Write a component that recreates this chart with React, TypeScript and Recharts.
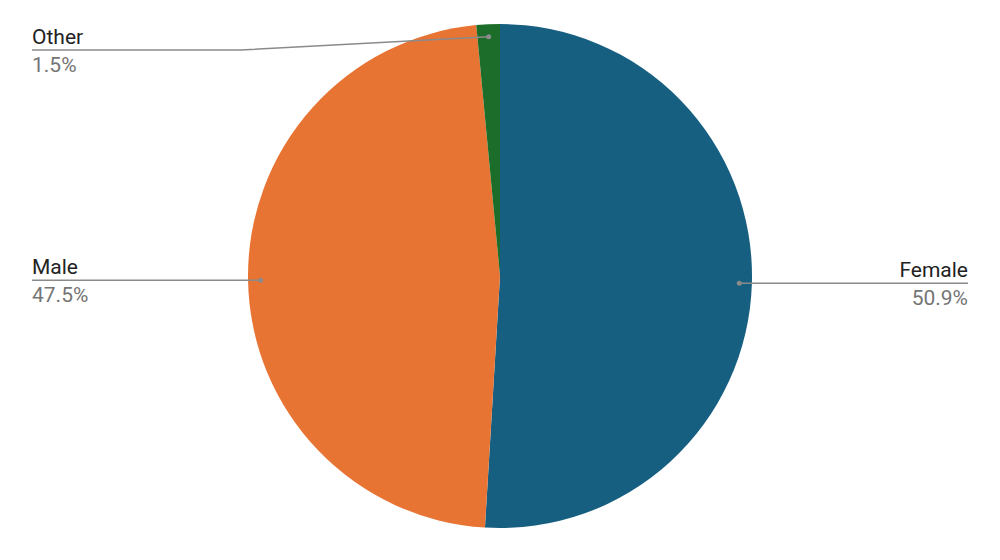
import { PieChart, Pie, Cell } from 'recharts';

// Gender split, clockwise from 12 o'clock
const categories = ['Female', 'Male', 'Other'];
const shares = [50.9, 47.5, 1.5];
const colors = ['#175f80', '#e87433', '#1b6d29'];

const data = categories.map((name, i) => ({ name, value: shares[i] }));

const LEFT_EDGE = 32;
const RIGHT_EDGE = 968;
const TOP_LINE = 50;

/** Callout: dot inside the slice, leader line out to the page edge, name above, percent below. */
function SliceLabel(props: any) {
  const { cx, cy, midAngle, outerRadius, index } = props;
  const rad = Math.PI / 180;
  const r = outerRadius * 0.95;
  const dx = cx + r * Math.cos(-midAngle * rad);
  const dy = cy + r * Math.sin(-midAngle * rad);
  const right = dx > cx + 10;
  const edge = right ? RIGHT_EDGE : LEFT_EDGE;
  const lineY = Math.max(dy, TOP_LINE);
  // slices near the top get a short kink before the horizontal run
  const kinked = lineY !== dy;
  const elbowX = kinked ? 240 : dx;
  const points = kinked
    ? `${dx},${dy} ${elbowX},${lineY} ${edge},${lineY}`
    : `${dx},${dy} ${edge},${lineY}`;
  const anchor = right ? 'end' : 'start';

  return (
    <g>
      <polyline points={points} fill="none" stroke="#8a8a8a" strokeWidth={1.5} />
      <circle cx={dx} cy={dy} r={2.5} fill="#8a8a8a" />
      <text x={edge} y={lineY - 6} textAnchor={anchor} fill="#222222" fontSize={21}>
        {categories[index]}
      </text>
      <text x={edge} y={lineY + 22} textAnchor={anchor} fill="#757575" fontSize={21}>
        {`${shares[index]}%`}
      </text>
    </g>
  );
}

export default function App() {
  return (
    <div
      style={{
        position: 'absolute',
        left: 0,
        top: 0,
        width: 1000,
        height: 560,
        background: '#ffffff',
        fontFamily: 'Roboto, sans-serif',
      }}
    >
      <PieChart width={1000} height={560} margin={{ top: 0, right: 0, bottom: 0, left: 0 }}>
        <Pie
          data={data}
          dataKey="value"
          nameKey="name"
          cx={500}
          cy={276}
          outerRadius={252}
          startAngle={90}
          endAngle={-270}
          stroke="none"
          label={SliceLabel}
          labelLine={false}
          isAnimationActive={false}
        >
          {data.map((d, i) => (
            <Cell key={d.name} fill={colors[i]} />
          ))}
        </Pie>
      </PieChart>
    </div>
  );
}
